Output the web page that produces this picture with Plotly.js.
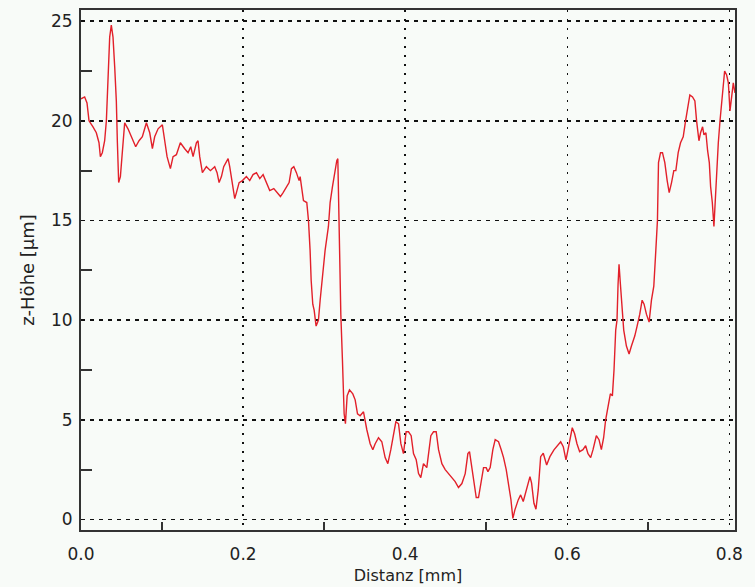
<!DOCTYPE html>
<html>
<head>
<meta charset="utf-8">
<script src="https://cdn.plot.ly/plotly-3.0.1.min.js"></script>
<style>html,body{margin:0;padding:0;background:#f8fbf8;}</style>
</head>
<body>
<div id="chart" style="width:755px;height:587px;"></div>
<script>
// Profile: distance (mm) and height (µm)
const distanz = [
0.000,0.0045,0.0074,0.0099,0.0148,0.0189,0.0222,0.0239,0.0263,0.0292,0.0313,0.0333,0.0354,0.0374,0.0395,0.0416,0.0436,0.0449,0.0465,0.0486,
0.0510,0.0539,0.0580,0.0621,0.0675,0.0716,0.0757,0.0807,0.0848,0.0881,0.0909,0.0951,0.1004,0.1033,0.1062,0.1103,0.1136,0.1177,0.1226,0.1280,
0.1321,0.1354,0.1383,0.1424,0.1444,0.1465,0.1498,0.1547,0.1597,0.1650,0.1679,0.1704,0.1733,0.1761,0.1794,0.1815,0.1835,0.1856,0.1877,0.1897,
0.1918,0.1951,0.1992,0.2041,0.2082,0.2123,0.2165,0.2206,0.2247,0.2288,0.2329,0.2379,0.2420,0.2461,0.2494,0.2535,0.2568,0.2597,0.2626,0.2658,
0.2691,0.2704,0.2724,0.2745,0.2786,0.2807,0.2827,0.2840,0.2860,0.2877,0.2901,0.2930,0.2951,0.2984,0.3012,0.3053,0.3074,0.3103,0.3128,0.3156,
0.3169,0.3185,0.3206,0.3226,0.3247,0.3263,0.3284,0.3313,0.3354,0.3383,0.3412,0.3444,0.3486,0.3527,0.3568,0.3601,0.3630,0.3671,0.3712,0.3753,
0.3786,0.3823,0.3856,0.3885,0.3918,0.3947,0.3979,0.4012,0.4041,0.4074,0.4103,0.4136,0.4165,0.4193,0.4226,0.4267,0.4317,0.4350,0.4383,0.4412,
0.4453,0.4494,0.4535,0.4576,0.4617,0.4658,0.4700,0.4741,0.4774,0.4794,0.4823,0.4852,0.4877,0.4905,0.4934,0.4967,0.5000,0.5021,0.5049,0.5082,
0.5111,0.5152,0.5185,0.5214,0.5247,0.5276,0.5305,0.5329,0.5354,0.5395,0.5425,0.5457,0.5499,0.5540,0.5560,0.5589,0.5614,0.5642,0.5672,0.5704,
0.5746,0.5786,0.5836,0.5889,0.5919,0.5951,0.5984,0.6000,0.6029,0.6062,0.6091,0.6120,0.6153,0.6194,0.6227,0.6256,0.6289,0.6318,0.6359,0.6392,
0.6421,0.6449,0.6474,0.6503,0.6532,0.6557,0.6577,0.6598,0.6614,0.6627,0.6639,0.6656,0.6672,0.6697,0.6730,0.6763,0.6792,0.6833,0.6862,0.6895,
0.6924,0.6948,0.6977,0.7010,0.7039,0.7068,0.7093,0.7113,0.7126,0.7151,0.7175,0.7204,0.7233,0.7258,0.7287,0.7315,0.7340,0.7369,0.7398,0.7431,
0.7460,0.7485,0.7513,0.7546,0.7575,0.7596,0.7625,0.7645,0.7670,0.7687,0.7711,0.7732,0.7753,0.7769,0.7790,0.7810,0.7827,0.7843,0.7864,0.7885,
0.7905,0.7926,0.7942,0.7967,0.7988,0.8008,0.8029,0.8049,0.8070
];
const hoehe = [
21.1,21.2,20.9,20.0,19.7,19.4,18.9,18.2,18.4,19.0,20.0,22.5,24.2,24.8,24.2,22.7,21.0,18.9,16.9,17.2,
18.5,19.9,19.6,19.2,18.7,19.0,19.2,19.9,19.4,18.6,19.2,19.6,19.8,19.0,18.2,17.6,18.2,18.3,18.9,18.6,
18.4,18.7,18.2,18.9,19.0,18.2,17.4,17.7,17.5,17.7,17.4,16.9,17.2,17.7,18.0,18.1,17.7,17.2,16.7,16.1,
16.4,16.9,17.0,17.2,17.0,17.3,17.4,17.1,17.3,16.9,16.5,16.6,16.4,16.2,16.4,16.7,16.9,17.6,17.7,17.4,
17.0,17.2,16.5,16.0,15.9,15.0,13.5,12.0,10.8,10.5,9.7,10.0,11.0,12.3,13.5,14.7,15.9,16.7,17.4,18.0,
18.1,13.8,10.3,8.0,5.3,4.8,6.2,6.5,6.3,6.0,5.3,5.2,5.4,4.5,3.8,3.5,3.8,4.1,3.9,3.1,
2.8,3.5,4.3,4.9,4.8,3.8,3.3,4.4,4.4,4.2,3.3,3.0,2.3,2.1,2.8,2.6,4.2,4.4,4.4,3.5,
2.8,2.5,2.3,2.1,1.9,1.6,1.8,2.3,3.3,3.4,2.6,1.8,1.1,1.1,1.8,2.6,2.6,2.4,2.6,3.5,
4.0,3.9,3.5,3.1,2.5,1.8,1.0,0.05,0.48,0.98,1.23,0.9,1.48,2.15,1.82,0.81,0.51,1.48,3.15,3.32,
2.73,3.15,3.49,3.74,3.9,3.65,2.99,3.3,4.0,4.6,4.3,3.8,3.4,3.5,3.7,3.3,3.1,3.5,4.2,4.0,
3.5,4.1,5.0,5.7,6.3,6.2,7.5,9.5,10.0,11.8,12.8,11.8,10.8,9.5,8.7,8.3,8.7,9.2,9.7,10.3,
11.0,10.8,10.3,9.9,11.0,11.7,13.5,15.0,17.9,18.4,18.4,17.9,17.0,16.4,16.9,17.5,17.5,18.4,18.9,19.2,
20.0,20.7,21.3,21.2,21.0,20.0,19.0,19.4,19.7,19.3,19.4,18.5,17.9,16.7,15.9,14.7,16.2,17.7,18.9,20.0,
20.9,21.7,22.5,22.3,21.9,20.5,21.2,21.9,21.4
];
const xTickVals = [0.0, 0.2, 0.4, 0.6, 0.8];
const xTickText = ['0.0', '0.2', '0.4', '0.6', '0.8'];
const yTickVals = [0, 5, 10, 15, 20, 25];
const yTickText = ['0', '5', '10', '15', '20', '25'];
const xMinorVals = [0.1, 0.3, 0.5, 0.7];
const yMinorVals = [2.5, 7.5, 12.5, 17.5, 22.5];

const xRange = [0, 0.807];
const yRange = [-0.53, 25.56];

const axisFont = {family: 'DejaVu Sans, sans-serif', size: 17, color: '#222'};
const xTitleFont = {family: 'DejaVu Sans, sans-serif', size: 16, color: '#222'};
const yTitleFont = {family: 'DejaVu Sans, sans-serif', size: 18, color: '#222'};

const trace = {
  x: distanz, y: hoehe, type: 'scatter', mode: 'lines',
  line: {color: '#e2202a', width: 1.4},
  hoverinfo: 'x+y'
};

const layout = {
  width: 755, height: 587,
  margin: {l: 81, r: 20, t: 10, b: 57},
  paper_bgcolor: '#f8fbf8', plot_bgcolor: '#f8fbf8',
  showlegend: false,
  xaxis: {
    range: xRange, tickmode: 'array', tickvals: xTickVals, ticktext: xTickText,
    ticks: '', showline: true, linecolor: '#333', linewidth: 2, mirror: true,
    showgrid: true, gridcolor: '#111', gridwidth: 1.5, griddash: '2px,7px',
    zeroline: false, tickfont: axisFont, ticklabelstandoff: 8,
    minor: {tickmode: 'array', tickvals: xMinorVals, ticks: 'inside', ticklen: 8, tickwidth: 2, tickcolor: '#333', showgrid: false},
    title: {text: 'Distanz [mm]', font: xTitleFont, standoff: 6}
  },
  yaxis: {
    range: yRange, tickmode: 'array', tickvals: yTickVals, ticktext: yTickText,
    ticks: '', showline: true, linecolor: '#333', linewidth: 2, mirror: true,
    showgrid: true, gridcolor: '#111', gridwidth: 1.5, griddash: '4px,5px',
    zeroline: false, tickfont: axisFont, ticklabelstandoff: 3,
    minor: {tickmode: 'array', tickvals: yMinorVals, ticks: 'inside', ticklen: 11, tickwidth: 2, tickcolor: '#333', showgrid: false},
    title: {text: 'z-Höhe [µm]', font: yTitleFont, standoff: 12}
  }
};

Plotly.newPlot('chart', [trace], layout, {displayModeBar: false, staticPlot: true});
</script>
</body>
</html>
